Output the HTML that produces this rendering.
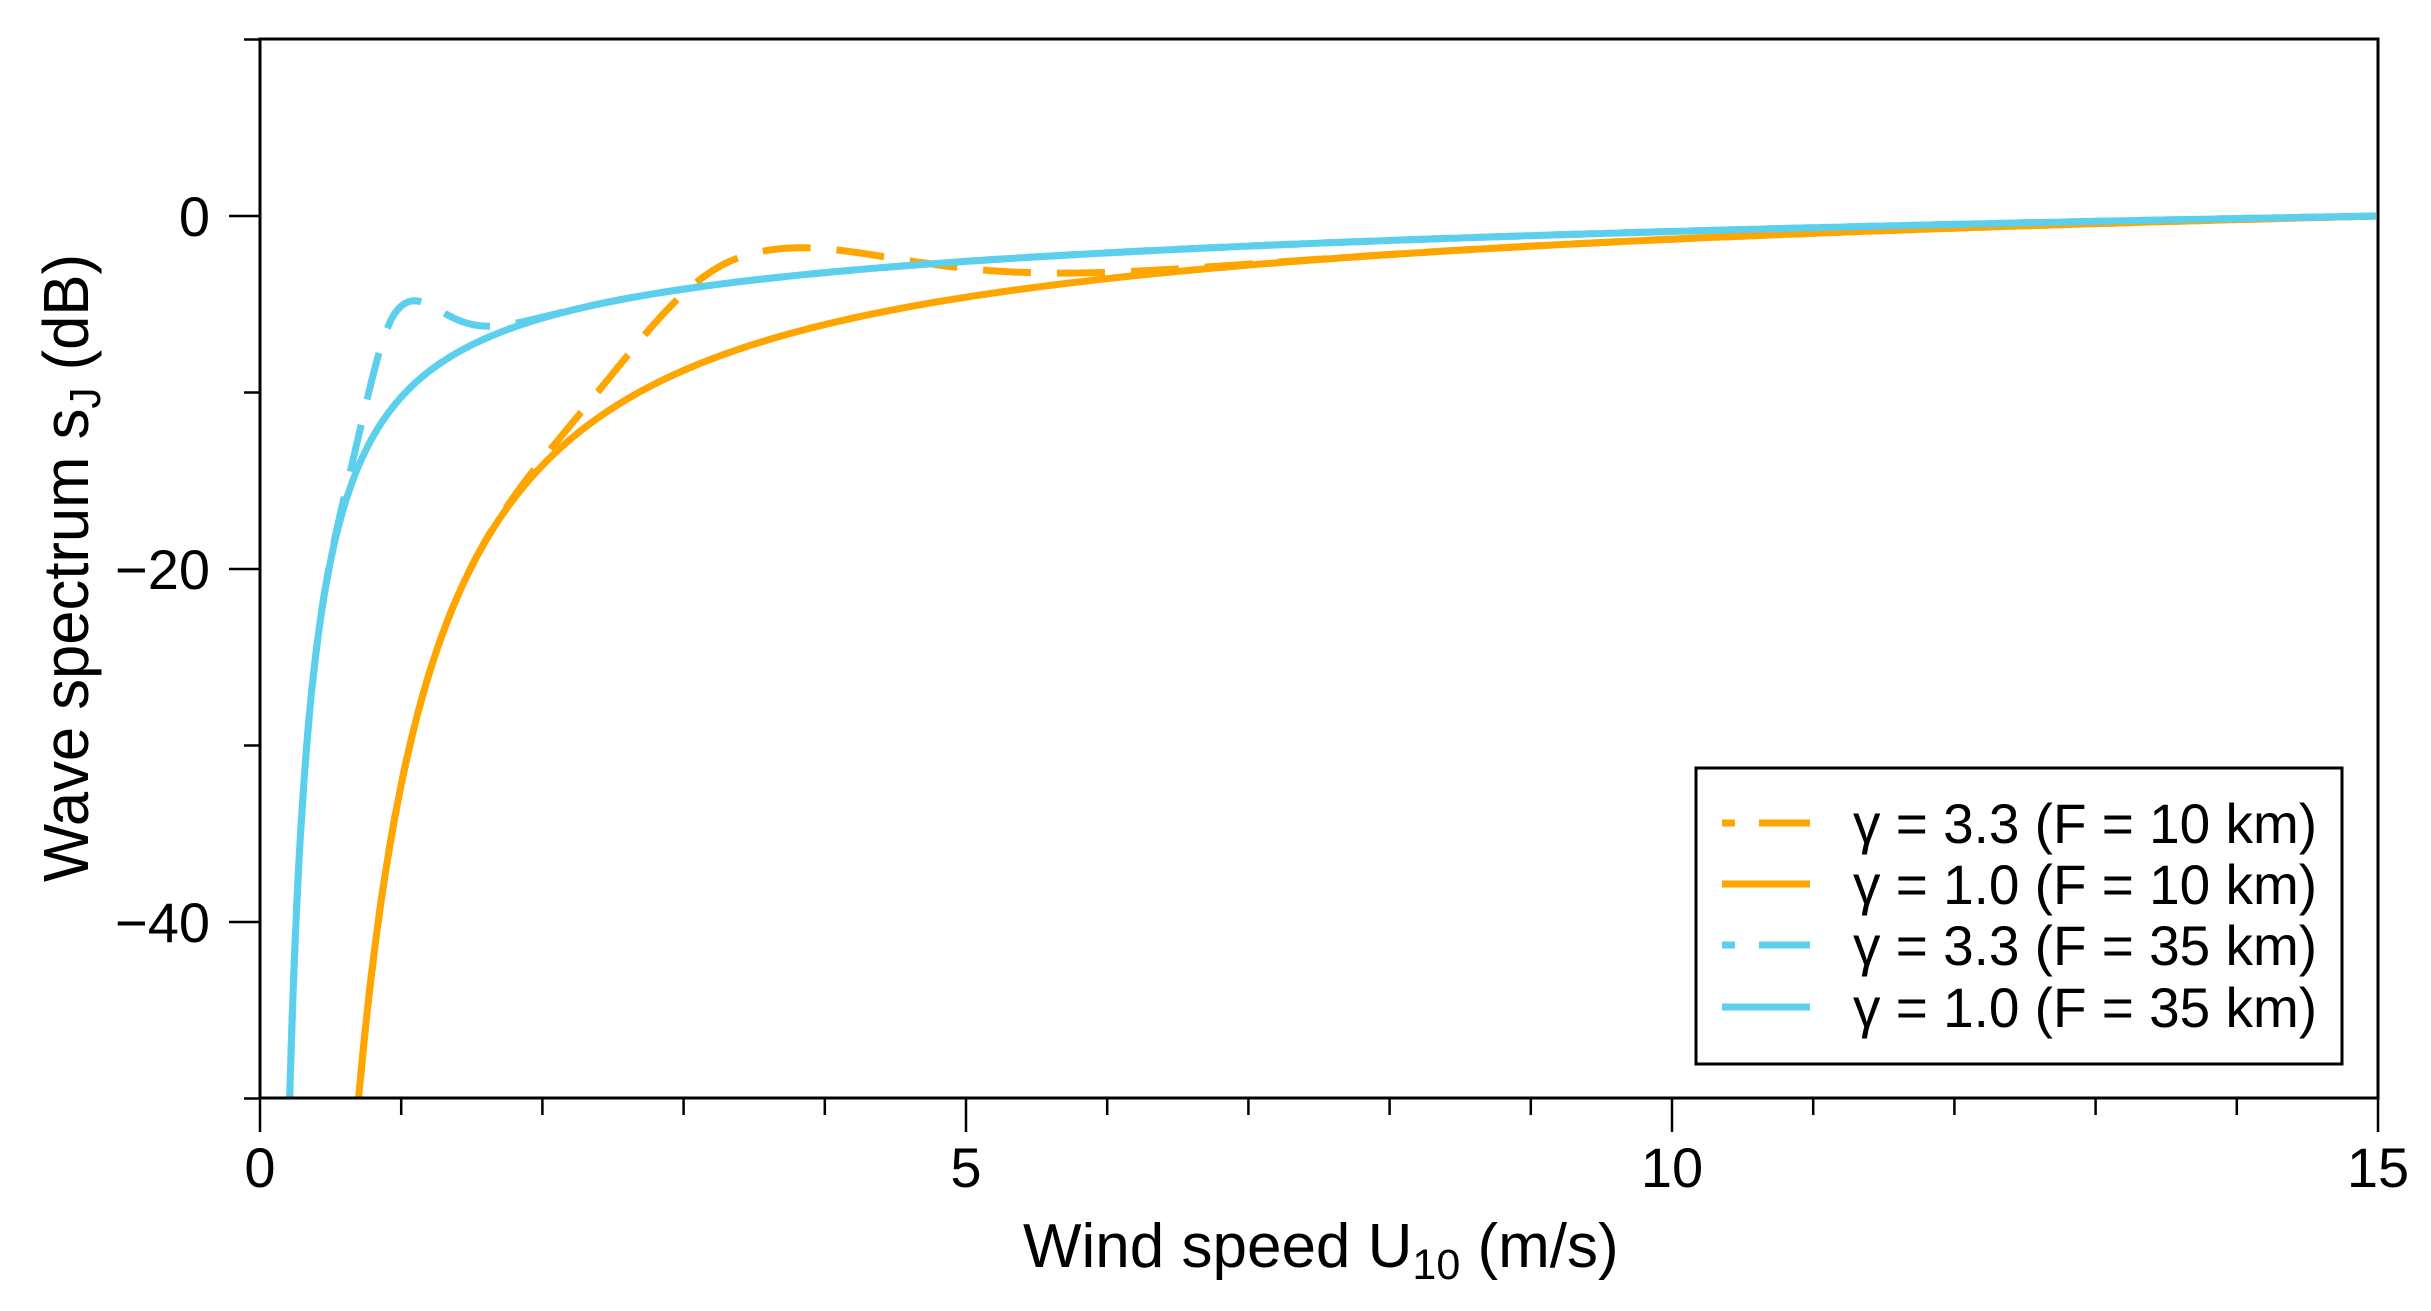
<!DOCTYPE html>
<html><head><meta charset="utf-8"><style>
html,body{margin:0;padding:0;background:#fff;width:2431px;height:1311px;overflow:hidden}
svg{display:block;position:absolute;left:0;top:0}
text{font-family:"Liberation Sans",Arial,sans-serif;fill:#000}
</style></head><body>
<svg id="s" width="2431" height="1311" viewBox="0 0 2431 1311" xmlns="http://www.w3.org/2000/svg">
<defs><clipPath id="c"><rect x="260" y="39" width="2118" height="1059"/></clipPath></defs>
<g id="curves" clip-path="url(#c)" fill="none" stroke-width="7" stroke-linejoin="round"></g>
<rect x="260" y="39" width="2118" height="1059" fill="none" stroke="#000" stroke-width="3"/>
<g id="ticks" stroke="#000" stroke-width="2.5"></g>
<g font-size="56">
<text x="210" y="236" text-anchor="end">0</text>
<text x="210" y="589" text-anchor="end">−20</text>
<text x="210" y="942" text-anchor="end">−40</text>
<text x="260" y="1187" text-anchor="middle">0</text>
<text x="966" y="1187" text-anchor="middle">5</text>
<text x="1672" y="1187" text-anchor="middle">10</text>
<text x="2378" y="1187" text-anchor="middle">15</text>
</g>
<text x="1023" y="1267" font-size="62">Wind speed U<tspan font-size="43" dy="12">10</tspan><tspan dy="-12"> (m/s)</tspan></text>
<text transform="translate(88,882) rotate(-90)" font-size="64" textLength="628" lengthAdjust="spacingAndGlyphs">Wave spectrum s<tspan font-size="44" dy="12">J</tspan><tspan dy="-12"> (dB)</tspan></text>
<rect x="1696" y="768" width="646" height="296" fill="#fff" stroke="#000" stroke-width="3"/>
<g stroke-width="7">
<line x1="1722" y1="823" x2="1735" y2="823" stroke="#FFA500"/><line x1="1759" y1="823" x2="1810" y2="823" stroke="#FFA500"/>
<line x1="1722" y1="884" x2="1810" y2="884" stroke="#FFA500"/>
<line x1="1722" y1="945" x2="1735" y2="945" stroke="#5BCFEC"/><line x1="1759" y1="945" x2="1810" y2="945" stroke="#5BCFEC"/>
<line x1="1722" y1="1007" x2="1810" y2="1007" stroke="#5BCFEC"/>
</g>
<g font-size="56">
<text x="1853" y="843" textLength="464" lengthAdjust="spacingAndGlyphs">γ = 3.3 (F = 10 km)</text>
<text x="1853" y="904" textLength="464" lengthAdjust="spacingAndGlyphs">γ = 1.0 (F = 10 km)</text>
<text x="1853" y="965" textLength="464" lengthAdjust="spacingAndGlyphs">γ = 3.3 (F = 35 km)</text>
<text x="1853" y="1027" textLength="464" lengthAdjust="spacingAndGlyphs">γ = 1.0 (F = 35 km)</text>
</g>
</svg>
<script>
(function(){
var NS="http://www.w3.org/2000/svg";
function X(u){return 260+u*141.2;}
function Y(d){return 216-d*17.65;}
var t=document.getElementById('ticks'),h='';
for(var i=0;i<=15;i++){var x=X(i);h+='<line x1="'+x+'" y1="1098" x2="'+x+'" y2="'+(i%5==0?1132:1115)+'"/>';}
for(var d=10;d>=-50;d-=10){var y=Y(d);h+='<line x1="260" y1="'+y+'" x2="'+((d%20==0)?229:244)+'" y2="'+y+'"/>';}
t.innerHTML=h;
function s(U,c,g){
  var k=Math.pow(c,0.25)*Math.pow(U,-1/3), k15=Math.pow(c,0.25)*Math.pow(15,-1/3);
  var v=4.4*Math.log10(U/15)-5.43*(Math.pow(k,4)-Math.pow(k15,4));
  if(g>1){
    function r(k){var w=1/k;var sg=(w<=1)?0.07:0.09;return Math.exp(-(w-1)*(w-1)/(2*sg*sg));}
    v+=10*Math.log10(g)*(r(k)-r(k15));
  }
  return v;
}
function path(c,g){
  var p='',first=true;
  for(var U=0.15;U<=15.001;U+=(U<3?0.005:0.02)){
    var v=s(U,c,g); if(v<-70) continue;
    p+=(first?'M':'L')+X(U).toFixed(1)+' '+Y(v).toFixed(1); first=false;
  }
  return p;
}
var cv=document.getElementById('curves');
var specs=[[5.12,3.3,'#FFA500',true],[5.12,1,'#FFA500',false],[0.963,3.3,'#5BCFEC',true],[0.963,1,'#5BCFEC',false]];
specs.forEach(function(sp){
  var e=document.createElementNS(NS,'path');
  e.setAttribute('d',path(sp[0],sp[1]));e.setAttribute('stroke',sp[2]);
  if(sp[3])e.setAttribute('stroke-dasharray','48 26');
  cv.appendChild(e);
});
})();
</script>
</body></html>
